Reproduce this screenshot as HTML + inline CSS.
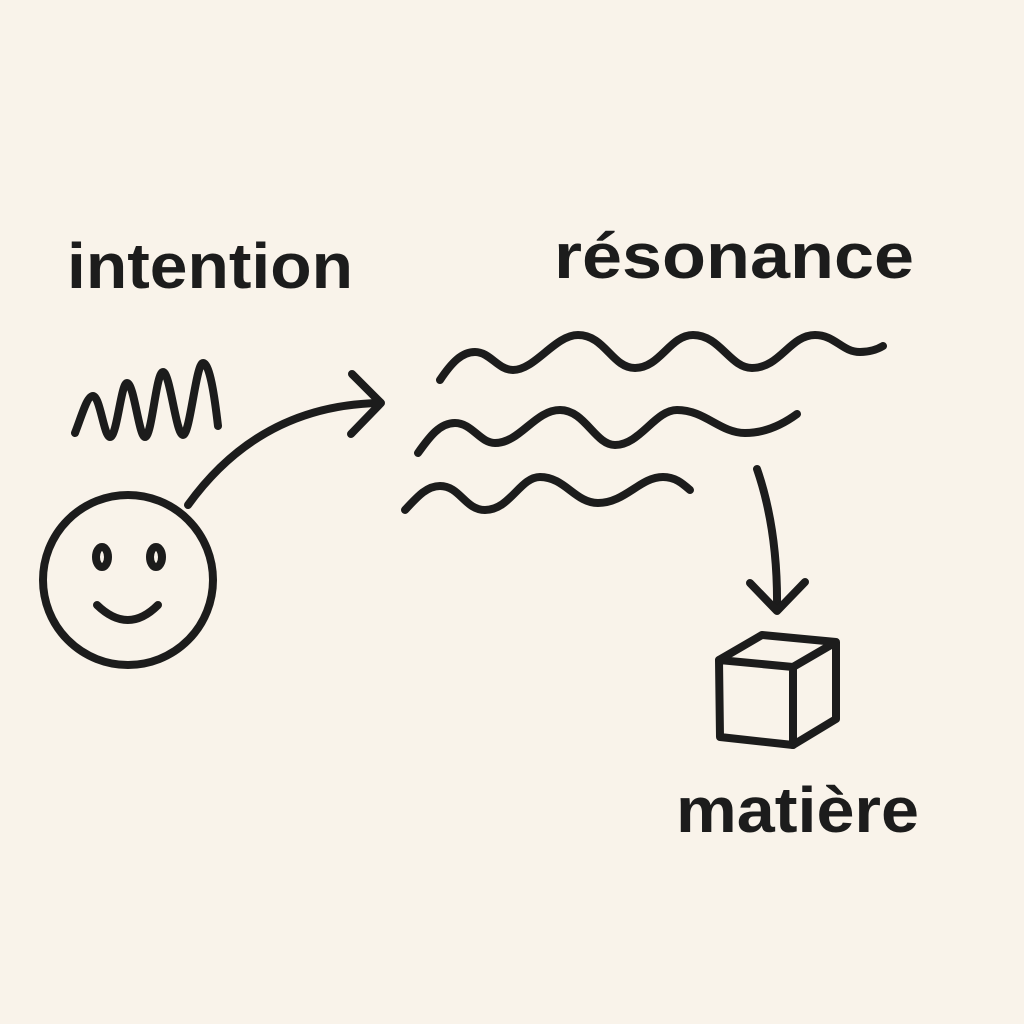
<!DOCTYPE html>
<html><head><meta charset="utf-8"><style>
html,body{margin:0;padding:0;background:#f9f3ea;}
svg{display:block}
text{font-family:"Liberation Sans",sans-serif;font-weight:bold;fill:#1c1c1c}
</style></head><body>
<svg width="1024" height="1024" viewBox="0 0 1024 1024">
<rect width="1024" height="1024" fill="#f9f3ea"/>
<text x="67" y="288" font-size="64" textLength="286" lengthAdjust="spacingAndGlyphs">intention</text>
<text x="554" y="278" font-size="64" textLength="360" lengthAdjust="spacingAndGlyphs">résonance</text>
<text x="676" y="832" font-size="64" textLength="243" lengthAdjust="spacingAndGlyphs">matière</text>
<g fill="none" stroke="#1c1c1c" stroke-width="8" stroke-linecap="round" stroke-linejoin="round">
<path d="M75,433 C82,415 87,396 93,396 C100,396 104,437 110,437 C117,437 121,383 127,383 C134,383 139,437 145,437 C152,437 156,372 163,372 C170,372 176,435 183,435 C190,435 196,363 203,363 C210,363 215,400 218,426"/>
<circle cx="128" cy="580" r="85"/>
<ellipse cx="102" cy="557" rx="6" ry="10"/>
<ellipse cx="156" cy="557" rx="6" ry="10"/>
<path d="M97,605 Q128,635 158,605"/>
<path d="M188,505 Q260,405 380,403"/>
<path d="M352,374 L381,403 L351,434"/>
<path d="M440,380 C452,362 462,352 475,352 C490,352 498,370 513,370 C535,370 555,335 578,335 C605,335 612,368 635,368 C660,368 670,335 693,335 C720,335 730,368 752,368 C780,368 790,335 815,335 C835,335 842,352 860,352 C870,352 878,349 883,346"/>
<path d="M418,453 C430,436 440,423 455,423 C472,423 480,443 495,443 C520,443 535,410 560,410 C585,410 595,445 615,445 C640,445 655,410 677,410 C705,410 720,433 745,433 C765,433 782,425 797,414"/>
<path d="M405,510 C418,496 427,486 440,486 C460,486 465,510 485,510 C510,510 520,477 540,477 C565,477 575,503 598,503 C625,503 640,477 663,477 C675,477 682,483 690,490"/>
<path d="M757,469 Q778,530 777,608"/>
<path d="M750,583 L777,611 L805,582"/>
<path d="M719,660 L793,667 L793,745 L720,737 Z"/>
<path d="M719,660 L762,635 L836,642 L793,667 M836,642 L836,719 L793,745"/>
</g>
</svg>
</body></html>
